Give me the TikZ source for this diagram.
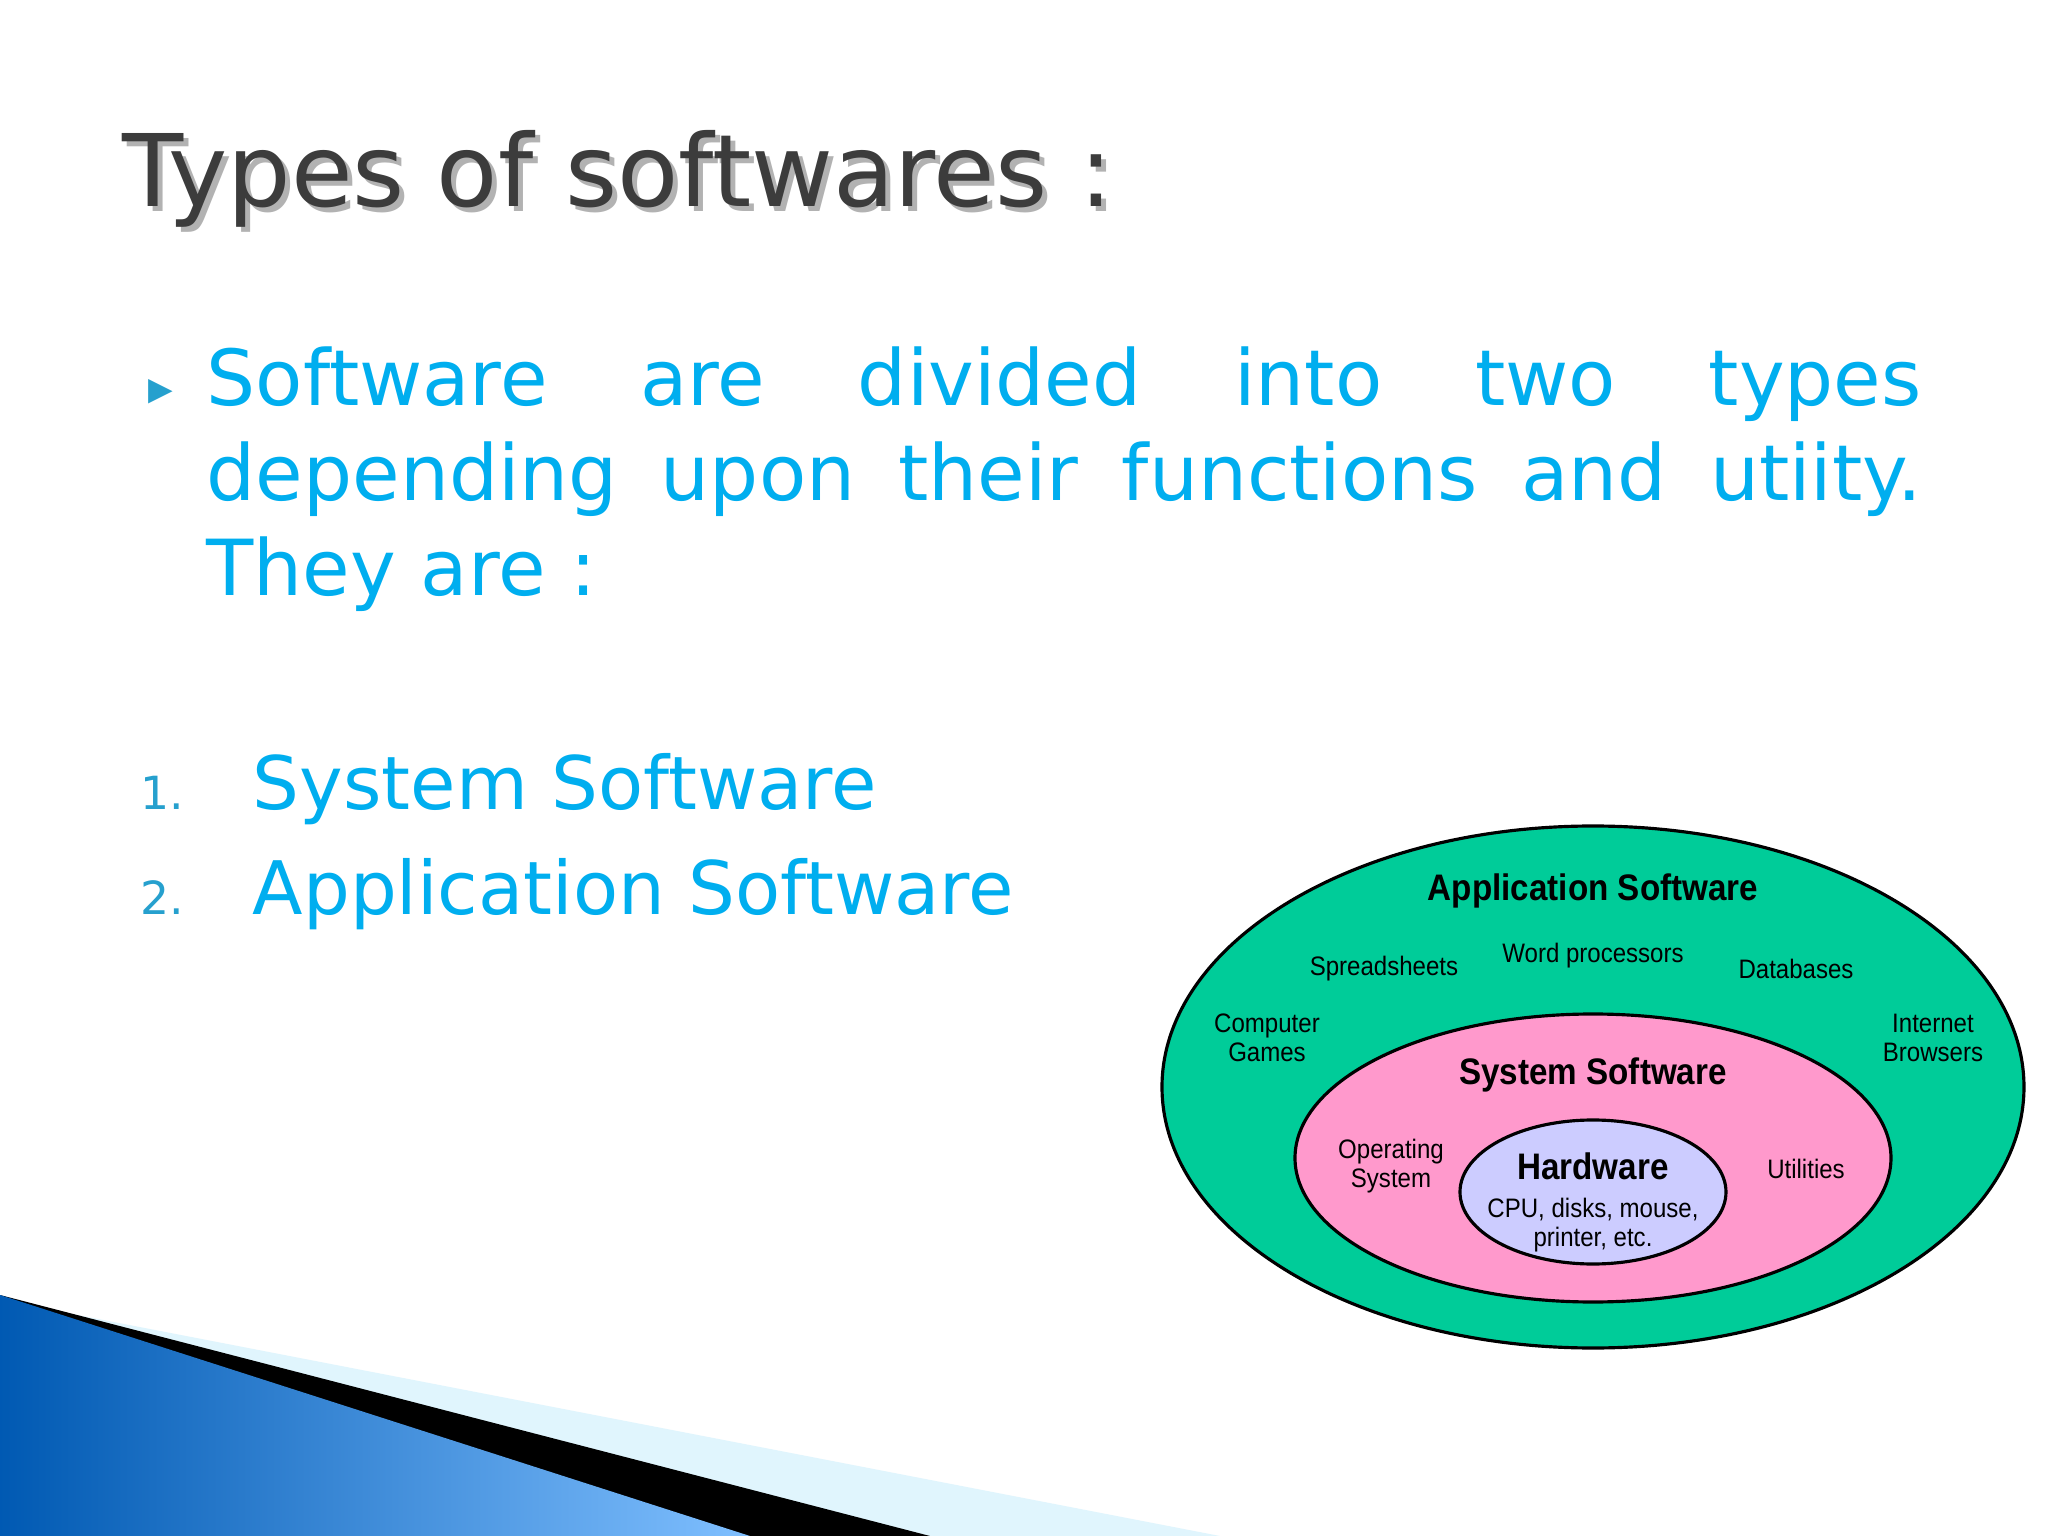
\documentclass[tikz,border=0pt]{standalone}
\usepackage{fontspec}
\setmainfont{DejaVu Sans}
\newfontfamily\lab{Liberation Sans}
\usetikzlibrary{shadings}
\definecolor{tblue}{RGB}{0,174,239}
\definecolor{appg}{RGB}{0,204,153}
\definecolor{sysp}{RGB}{255,153,204}
\definecolor{hwl}{RGB}{204,204,255}
\definecolor{tgray}{RGB}{60,60,60}
\tikzset{
 ell/.style={draw=black,line width=0.9pt},
 lbl/.style={font=\lab\fontsize{7.6}{8.4}\selectfont,align=center,inner sep=0pt,xscale=0.9},
 hdr/.style={font=\lab\bfseries\fontsize{10.5}{12}\selectfont,inner sep=0pt,xscale=0.9},
 item/.style={font=\fontsize{21}{26}\selectfont,text=tblue,anchor=base west,inner sep=0pt},
 num/.style={font=\fontsize{13}{15}\selectfont,text=tblue!70!gray,anchor=base west,inner sep=0pt}
}
\begin{document}
\begin{tikzpicture}[x=1cm,y=1cm]
\useasboundingbox (0,0) rectangle (20.48,-15.36);
\fill[white] (0,0) rectangle (20.48,-15.36);
% decoration
\fill[cyan!12] (0,-13.0) -- (12.2,-15.36) -- (0,-15.36) -- cycle;
\fill[black] (0,-12.95) -- (9.3,-15.36) -- (7.4,-15.36) -- (0,-13.2) -- cycle;
\shade[left color=cyan!50!blue!70!black, right color=cyan!50!blue!50!white] (0,-12.95) -- (7.5,-15.36) -- (0,-15.36) -- cycle;
% title
\node[anchor=base west,inner sep=0pt,font=\fontsize{28.5}{32}\selectfont,text=gray!60] (ts) at (1.27,-2.12) {Types of softwares :};
\node[anchor=base west,inner sep=0pt,font=\fontsize{28.5}{32}\selectfont,text=tgray] (title) at (1.22,-2.07) {Types of softwares :};
% bullet
\node[font=\fontsize{14}{14}\selectfont,text=tblue!70!gray,anchor=base west,inner sep=0pt] (bul) at (1.48,-4.05) {\char"25B8};
\node[anchor=base west,inner sep=0pt,text=tblue,font=\fontsize{22}{27}\selectfont] (para) at (2.06,-4.06)
 {\parbox[t]{17.15cm}{\setlength{\parfillskip}{0pt plus 1fil}\hyphenpenalty=10000 Software are divided into two types depending upon their functions and utiity. They are :}};
\node[num] (n1) at (1.40,-8.1) {1.};
\node[item] (i1) at (2.52,-8.1) {System Software};
\node[num] (n2) at (1.40,-9.15) {2.};
\node[item] (i2) at (2.52,-9.15) {Application Software};
% ellipses
\fill[ell,fill=appg] (15.93,-10.87) ellipse [x radius=4.31,y radius=2.61];
\fill[ell,fill=sysp] (15.93,-11.58) ellipse [x radius=2.98,y radius=1.44];
\fill[ell,fill=hwl] (15.93,-11.92) ellipse [x radius=1.33,y radius=0.72];
\node[hdr] (app) at (15.93,-8.91) {Application Software};
\node[lbl] (sp) at (13.84,-9.69) {Spreadsheets};
\node[lbl] (wp) at (15.93,-9.56) {Word processors};
\node[lbl] (db) at (17.96,-9.69) {Databases};
\node[lbl] (cg) at (12.67,-10.38) {Computer\\Games};
\node[lbl] (ib) at (19.33,-10.38) {Internet\\Browsers};
\node[hdr] (sys) at (15.93,-10.75) {System Software};
\node[lbl] (os) at (13.91,-11.66) {Operating\\System};
\node[lbl] (ut) at (18.06,-11.69) {Utilities};
\node[hdr] (hw) at (15.93,-11.66) {Hardware};
\node[lbl] (cpu) at (15.93,-12.25) {CPU, disks, mouse,\\printer, etc.};
\end{tikzpicture}
\end{document}
